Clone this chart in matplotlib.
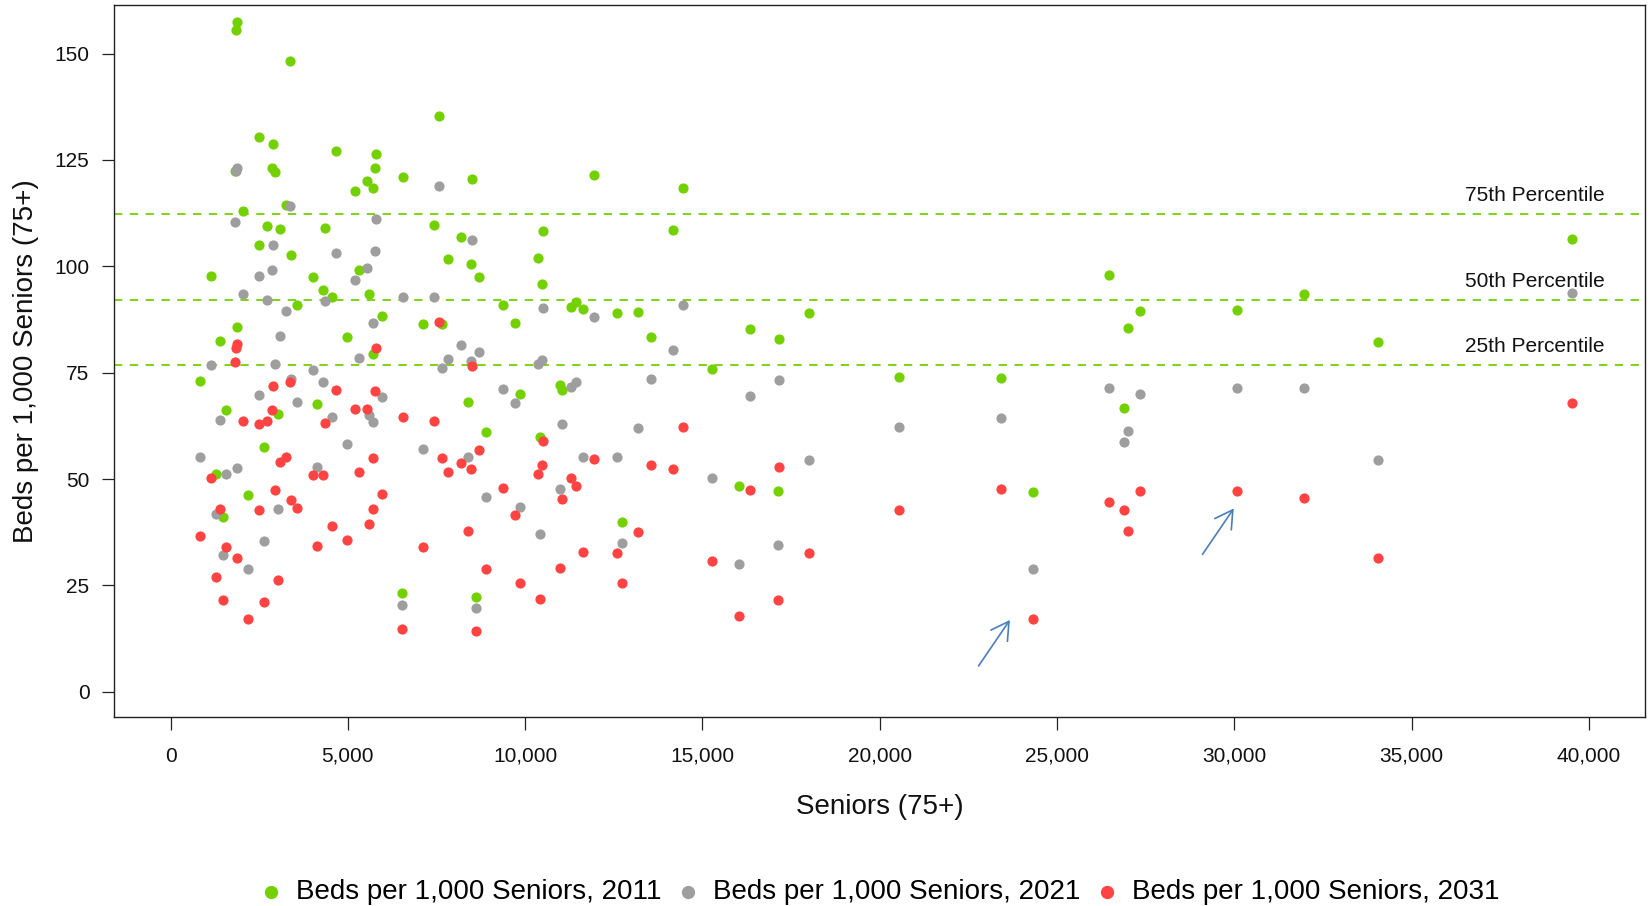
import matplotlib
matplotlib.use("Agg")
import matplotlib.pyplot as plt
import matplotlib.transforms as mtransforms
from matplotlib.patches import FancyArrowPatch
from matplotlib.ticker import FuncFormatter

plt.rcParams['font.family'] = ['Liberation Sans', 'DejaVu Sans']

# ---- data ----
seniors = [829, 1144, 1289, 1402, 1488, 1562, 1816, 1853, 1881, 1885,
           2050, 2175, 2502, 2506, 2625, 2728, 2869, 2897, 2940, 3025,
           3076, 3255, 3367, 3395, 3560, 4025, 4133, 4303, 4350, 4556,
           4669, 4984, 5209, 5308, 5538, 5587, 5708, 5720, 5772, 5783,
           5952, 6517, 6558, 7127, 7437, 7560, 7663, 7831, 8190, 8397,
           8463, 8491, 8612, 8712, 8899, 9383, 9704, 9868, 10353, 10422,
           10483, 10511, 10979, 11033, 11300, 11447, 11621, 11935, 12598, 12745,
           13185, 13539, 14158, 14459, 15264, 16045, 16331, 17129, 17157, 18012,
           20541, 23409, 24321, 26456, 26881, 27016, 27348, 30084, 31962, 34058,
           39526]

beds_2011 = [73.0, 97.7, 51.2, 82.4, 41.2, 66.2, 122.5, 155.6, 157.3, 85.8,
             113.1, 46.3, 130.3, 105.0, 57.5, 109.5, 123.2, 128.8, 122.2, 65.2,
             108.7, 114.3, 148.3, 102.7, 90.8, 97.4, 67.6, 94.5, 109.1, 92.9,
             127.2, 83.3, 117.8, 99.1, 120.0, 93.5, 79.3, 118.5, 123.1, 126.3,
             88.3, 23.2, 121.0, 86.5, 109.7, 135.3, 86.4, 101.7, 106.8, 68.1,
             100.6, 120.5, 22.4, 97.6, 61.0, 90.8, 86.7, 69.9, 102.0, 60.0,
             95.9, 108.3, 72.0, 70.9, 90.4, 91.6, 90.0, 121.5, 89.0, 39.9,
             89.2, 83.3, 108.5, 118.5, 75.9, 48.4, 85.3, 47.2, 83.0, 89.0,
             74.1, 73.7, 46.9, 98.0, 66.8, 85.4, 89.5, 89.7, 93.5, 82.1,
             106.4]

beds_2021 = [55.1, 76.8, 41.9, 63.8, 32.1, 51.3, 110.4, 122.3, 123.2, 52.7,
             93.6, 28.9, 97.8, 69.8, 35.4, 92.0, 99.2, 105.0, 77.0, 43.0,
             83.6, 89.4, 114.1, 73.5, 68.1, 75.7, 52.9, 72.7, 91.9, 64.7,
             103.2, 58.3, 96.7, 78.5, 99.6, 65.0, 63.3, 86.7, 103.5, 111.2,
             69.4, 20.4, 92.8, 57.1, 92.8, 118.9, 76.1, 78.2, 81.4, 55.3,
             77.8, 106.2, 19.7, 79.8, 45.8, 71.2, 67.9, 43.4, 77.1, 37.2,
             78.0, 90.1, 47.7, 62.9, 71.7, 72.8, 55.3, 88.0, 55.3, 35.1,
             61.9, 73.5, 80.3, 90.9, 50.3, 30.1, 69.5, 34.5, 73.3, 54.6,
             62.2, 64.3, 28.8, 71.5, 58.6, 61.3, 70.0, 71.3, 71.5, 54.6,
             93.8]

beds_2031 = [36.7, 50.3, 27.0, 42.9, 21.7, 34.0, 77.5, 80.7, 81.7, 31.5,
             63.7, 17.1, 63.0, 42.8, 21.1, 63.7, 66.2, 71.9, 47.4, 26.4,
             54.0, 55.3, 72.8, 45.1, 43.2, 51.0, 34.3, 51.0, 63.2, 38.9,
             70.9, 35.6, 66.5, 51.7, 66.5, 39.4, 43.0, 55.0, 70.7, 80.7,
             46.6, 14.8, 64.6, 34.1, 63.7, 87.0, 54.9, 51.7, 53.9, 37.8,
             52.3, 76.6, 14.2, 56.8, 28.9, 48.0, 41.6, 25.7, 51.1, 21.9,
             53.4, 59.0, 29.2, 45.4, 50.3, 48.4, 32.9, 54.8, 32.7, 25.7,
             37.5, 53.3, 52.4, 62.3, 30.8, 17.8, 47.4, 21.5, 52.8, 32.6,
             42.7, 47.7, 17.2, 44.6, 42.7, 37.8, 47.1, 47.2, 45.6, 31.5,
             67.9]

series_labels = ["Beds per 1,000 Seniors, 2011",
                 "Beds per 1,000 Seniors, 2021",
                 "Beds per 1,000 Seniors, 2031"]
series_colors = ["#74D100", "#9E9E9E", "#FF4242"]

percentile_values = [112.3, 92.1, 76.7]
percentile_labels = ["75th Percentile", "50th Percentile", "25th Percentile"]

x_ticks = list(range(0, 40001, 5000))
y_ticks = [0, 25, 50, 75, 100, 125, 150]

# annotation arrows (tail, head) in data coordinates
arrows = [((22789, 6.1), (23672, 16.9)),
          ((29104, 32.3), (29986, 43.1))]

# ---- figure ----
W, H = 1651, 906
fig = plt.figure(figsize=(W / 100, H / 100), dpi=100)
ax = fig.add_axes([114 / W, 1 - 717 / H, (1645 - 114) / W, (717 - 5) / H])

for vals, lab, col in zip([beds_2011, beds_2021, beds_2031], series_labels, series_colors):
    ax.scatter(seniors, vals, s=54, color=col, linewidths=0, label=lab, zorder=3)

for v in percentile_values:
    ax.axhline(v, color="#74D100", lw=1.3, dashes=(4.6, 4.15), zorder=2)

trans = mtransforms.blended_transform_factory(ax.transAxes, ax.transData)
for v, lab in zip(percentile_values, percentile_labels):
    ax.annotate(lab, xy=(0.9737, v), xycoords=trans, xytext=(0, 9.4),
                textcoords="offset points", ha="right", va="baseline",
                fontsize=15, color="#111111")

for tail, head in arrows:
    arr = FancyArrowPatch(posA=tail, posB=head,
                          arrowstyle="->,head_length=12.5,head_width=7.2",
                          mutation_scale=1, shrinkA=0, shrinkB=0,
                          color="#4A7EBB", lw=1.2, zorder=4)
    ax.add_patch(arr)

ax.set_xlim(-1596, 41585)
ax.set_ylim(-5.9, 161.4)
ax.set_xticks(x_ticks)
ax.set_yticks(y_ticks)
ax.xaxis.set_major_formatter(FuncFormatter(lambda v, p: f"{int(v):,}"))
ax.yaxis.set_major_formatter(FuncFormatter(lambda v, p: f"{int(v)}"))
ax.tick_params(axis="both", which="major", length=9, width=0.9,
               labelsize=15, color="#222222", labelcolor="#111111")
ax.tick_params(axis="x", pad=12.5)
ax.tick_params(axis="y", pad=8.6)
for sp in ax.spines.values():
    sp.set_linewidth(1.0)
    sp.set_color("#222222")

ax.text(0.5, (717 - 806.5) / 712, "Seniors (75+)", transform=ax.transAxes,
        ha="center", va="center", fontsize=20, color="#111111")
ax.text((26 - 114) / 1531, 0.5, "Beds per 1,000 Seniors (75+)", transform=ax.transAxes,
        ha="center", va="center", rotation=90, fontsize=20, color="#111111")

fig.legend(loc="center", bbox_to_anchor=(0.533, 1 - 892 / H), ncol=3,
           frameon=False, fontsize=20, scatterpoints=1, markerscale=1.3,
           handlelength=0.8, handletextpad=0.5, columnspacing=0.55,
           borderpad=0, borderaxespad=0)

fig.savefig("out.png", dpi=100)
